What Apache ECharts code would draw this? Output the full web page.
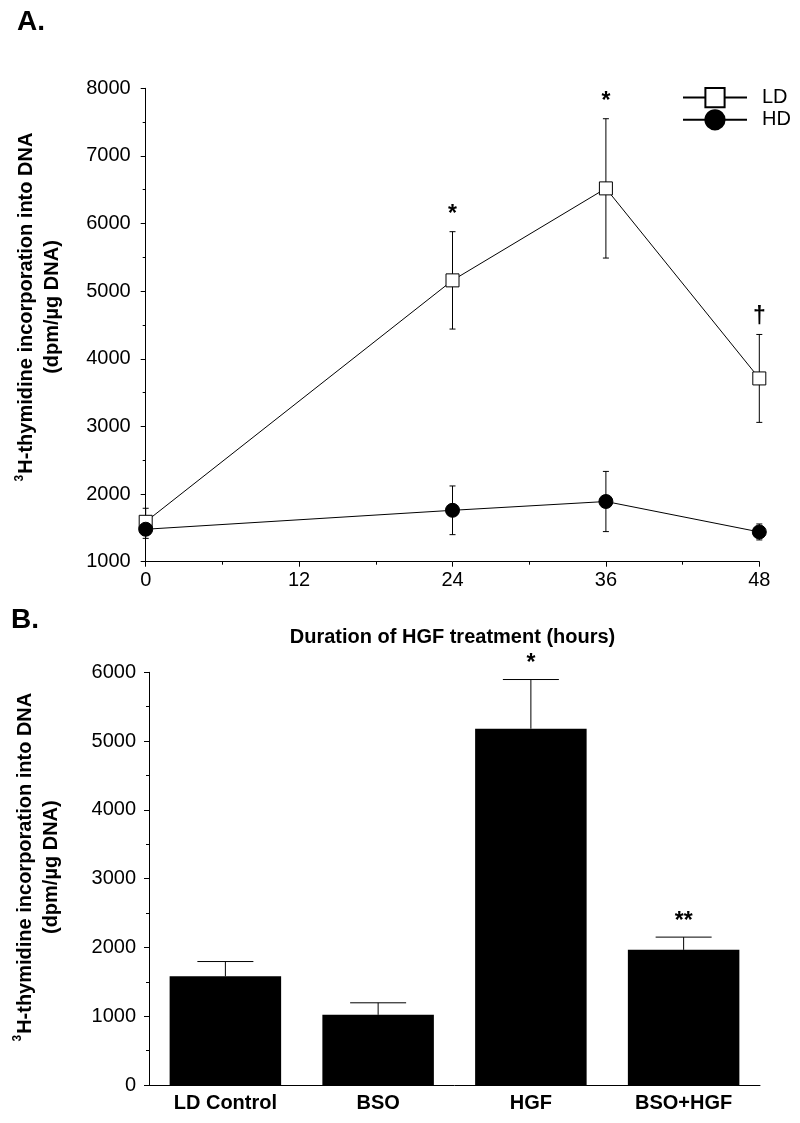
<!DOCTYPE html>
<html><head><meta charset="utf-8">
<script src="https://cdn.jsdelivr.net/npm/echarts@6/dist/echarts.min.js"></script>
<style>html,body{margin:0;padding:0;background:#fff}#c{width:800px;height:1123px}</style>
</head><body><div id="c"></div>
<script>
// ---- Panel A data ----
const hours = [0, 24, 36, 48];
const ldMean = [1590, 5160, 6520, 3710];
const ldErr = [200, 720, 1030, 650];
const ldMarks = ['', '*', '*', '\u2020'];
const hdMean = [1480, 1760, 1890, 1440];
const hdErr = [135, 360, 445, 118];
const hdMarks = ['', '', '', ''];
// ---- Panel B data ----
const barCats = ['LD Control', 'BSO', 'HGF', 'BSO+HGF'];
const barMean = [1580, 1020, 5180, 1965];
const barErr = [215, 175, 715, 185];
const barMarks = ['', '', '*', '**'];

const FONT = '"Liberation Sans", Arial, sans-serif';

function errRenderer(marks, capHalf, upOnly, markOffset) {
  return function (params, api) {
    const x = api.value(0), m = api.value(1), e = api.value(2);
    const top = api.coord([x, m + e]);
    const bot = api.coord([x, upOnly ? m : m - e]);
    const ls = { stroke: '#000', lineWidth: 1 };
    const children = [
      { type: 'line', shape: { x1: top[0], y1: top[1], x2: bot[0], y2: bot[1] }, style: ls },
      { type: 'line', shape: { x1: top[0] - capHalf, y1: top[1], x2: top[0] + capHalf, y2: top[1] }, style: ls }
    ];
    if (!upOnly) {
      children.push({ type: 'line', shape: { x1: bot[0] - capHalf, y1: bot[1], x2: bot[0] + capHalf, y2: bot[1] }, style: ls });
    }
    const t = marks[params.dataIndex];
    if (t) {
      children.push({ type: 'text', x: top[0], y: top[1] - markOffset,
        style: { text: t, align: 'center', verticalAlign: 'bottom', fontSize: 23, fontWeight: 'bold', fontFamily: FONT, fill: '#000' } });
    }
    return { type: 'group', children };
  };
}

const axisLineStyle = { lineStyle: { color: '#000', width: 1 } };
const yName = '{sup|3}{t|H-thymidine incorporation into DNA}\n{t|(dpm/\u00b5g DNA)}';
const yNameStyleBase = {
  color: '#000', fontFamily: FONT, fontSize: 20, fontWeight: 'bold', lineHeight: 26,
  rich: {
    t: { fontSize: 20, fontWeight: 'bold', fontFamily: FONT, lineHeight: 26, color: '#000' },
    sup: { fontSize: 12, fontWeight: 'bold', fontFamily: FONT, lineHeight: 26, verticalAlign: 'top', padding: [0, 1, 8, 0], color: '#000' }
  }
};
const plain = function (v) { return String(v); };

const chart = echarts.init(document.getElementById('c'), null, { renderer: 'canvas' });
chart.setOption({
  animation: false,
  backgroundColor: '#fff',
  textStyle: { fontFamily: FONT },
  graphic: [
    { type: 'text', x: 17, y: 22, style: { text: 'A.', fontSize: 28, fontWeight: 'bold', fontFamily: FONT, verticalAlign: 'middle', fill: '#000' } },
    { type: 'text', x: 11, y: 620.5, style: { text: 'B.', fontSize: 28, fontWeight: 'bold', fontFamily: FONT, verticalAlign: 'middle', fill: '#000' } }
  ],
  legend: {
    orient: 'vertical', left: 677, top: 82, itemWidth: 64, itemHeight: 24, itemGap: 1,
    data: ['LD', 'HD'],
    textStyle: { fontSize: 20, color: '#000', fontFamily: FONT, padding: [0, 0, 0, 10] }
  },
  grid: [
    { left: 145.7, right: 40.7, top: 88.3, bottom: 561.3 },
    { left: 149, right: 40, top: 672.3, bottom: 38 }
  ],
  xAxis: [
    { gridIndex: 0, type: 'value', min: 0, max: 48, interval: 12,
      axisLine: axisLineStyle, axisTick: { show: true, length: 5, lineStyle: { color: '#000' } },
      minorTick: { show: true, splitNumber: 2, length: 3, lineStyle: { color: '#000' } },
      splitLine: { show: false },
      axisLabel: { fontSize: 20, color: '#000', margin: 9, fontFamily: FONT, formatter: plain },
      name: 'Duration of HGF treatment (hours)', nameLocation: 'middle', nameGap: 66,
      nameTextStyle: { fontSize: 20, fontWeight: 'bold', color: '#000', fontFamily: FONT } },
    { gridIndex: 1, type: 'category', data: barCats,
      axisLine: axisLineStyle, axisTick: { show: false },
      axisLabel: { fontSize: 20, fontWeight: 'bold', color: '#000', margin: 8, fontFamily: FONT } }
  ],
  yAxis: [
    { gridIndex: 0, type: 'value', min: 1000, max: 8000, interval: 1000,
      axisLine: { show: true, lineStyle: { color: '#000', width: 1 } },
      axisTick: { show: true, length: 5, lineStyle: { color: '#000' } },
      minorTick: { show: true, splitNumber: 2, length: 3, lineStyle: { color: '#000' } },
      splitLine: { show: false },
      axisLabel: { fontSize: 20, color: '#000', margin: 15, fontFamily: FONT, formatter: plain },
      name: yName, nameLocation: 'middle', nameGap: 80,
      nameTextStyle: Object.assign({}, yNameStyleBase, { padding: [0, 0, 0, 36] }) },
    { gridIndex: 1, type: 'value', min: 0, max: 6000, interval: 1000,
      axisLine: { show: true, lineStyle: { color: '#000', width: 1 } },
      axisTick: { show: true, length: 5, lineStyle: { color: '#000' } },
      minorTick: { show: true, splitNumber: 2, length: 3, lineStyle: { color: '#000' } },
      splitLine: { show: false },
      axisLabel: { fontSize: 20, color: '#000', margin: 13, fontFamily: FONT, formatter: plain },
      name: yName, nameLocation: 'middle', nameGap: 85,
      nameTextStyle: Object.assign({}, yNameStyleBase, { padding: [0, 0, 0, 23] }) }
  ],
  series: [
    { type: 'custom', name: 'ldErr', xAxisIndex: 0, yAxisIndex: 0, z: 1,
      data: hours.map((h, i) => [h, ldMean[i], ldErr[i]]),
      renderItem: errRenderer(ldMarks, 3, false, 6) },
    { type: 'custom', name: 'hdErr', xAxisIndex: 0, yAxisIndex: 0, z: 1,
      data: hours.map((h, i) => [h, hdMean[i], hdErr[i]]),
      renderItem: errRenderer(hdMarks, 3, false, 6) },
    { type: 'line', name: 'LD', xAxisIndex: 0, yAxisIndex: 0, z: 3,
      data: hours.map((h, i) => [h, ldMean[i]]),
      symbol: 'rect', symbolSize: 13, showAllSymbol: true,
      itemStyle: { color: '#fff', borderColor: '#000', borderWidth: 1 },
      lineStyle: { color: '#000', width: 1 } },
    { type: 'line', name: 'HD', xAxisIndex: 0, yAxisIndex: 0, z: 3,
      data: hours.map((h, i) => [h, hdMean[i]]),
      symbol: 'circle', symbolSize: 14, showAllSymbol: true,
      itemStyle: { color: '#000', borderColor: '#000', borderWidth: 1 },
      lineStyle: { color: '#000', width: 1 } },
    { type: 'bar', name: 'bars', xAxisIndex: 1, yAxisIndex: 1, z: 2,
      data: barMean, barWidth: '73%', itemStyle: { color: '#000' } },
    { type: 'custom', name: 'barErr', xAxisIndex: 1, yAxisIndex: 1, z: 1,
      data: barCats.map((c, i) => [i, barMean[i], barErr[i]]),
      renderItem: errRenderer(barMarks, 28, true, 4) }
  ]
});
</script></body></html>
